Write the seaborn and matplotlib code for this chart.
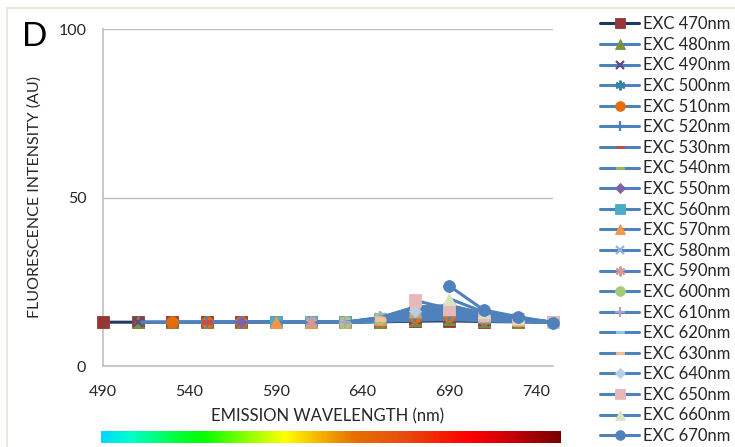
import numpy as np
import pandas as pd
import matplotlib
matplotlib.use("Agg")
import matplotlib.pyplot as plt
from matplotlib.colors import LinearSegmentedColormap
from matplotlib.patches import Rectangle
from matplotlib.path import Path
from matplotlib.ticker import MultipleLocator
import seaborn as sns

# Emission wavelengths (nm) sampled by every excitation scan
emission_nm = [490, 510, 530, 550, 570, 590, 610, 630, 650, 670, 690, 710, 730, 750]

# Fluorescence intensity (AU) per excitation wavelength, starting at its first emission point
exc_470 = [13.0, 13.0, 13.0, 13.0, 13.0, 13.0, 13.0, 13.0, 13.1, 13.3, 13.4, 13.2, 13.1, 13.0]
exc_480 = [13.0, 13.0, 13.0, 13.0, 13.0, 13.0, 13.0, 13.2, 13.6, 13.8, 13.4, 13.2, 13.0]
exc_490 = [13.0, 13.0, 13.0, 13.0, 13.0, 13.0, 13.0, 13.3, 13.9, 14.1, 13.5, 13.2, 13.0]
exc_500 = [13.0, 13.0, 13.0, 13.0, 13.0, 13.0, 13.3, 14.2, 14.5, 13.7, 13.3, 13.0]
exc_510 = [13.0, 13.0, 13.0, 13.0, 13.0, 13.0, 13.4, 14.5, 14.9, 13.9, 13.4, 13.0]
exc_520 = [13.0, 13.0, 13.0, 13.0, 13.0, 13.5, 14.8, 15.2, 14.0, 13.4, 13.0]
exc_530 = [13.0, 13.0, 13.0, 13.0, 13.0, 13.6, 15.1, 15.6, 14.2, 13.5, 13.0]
exc_540 = [13.0, 13.0, 13.0, 13.0, 13.7, 15.4, 15.9, 14.3, 13.5, 13.0]
exc_550 = [13.0, 13.0, 13.0, 13.0, 13.8, 15.7, 16.2, 14.5, 13.6, 13.0]
exc_560 = [13.0, 13.0, 13.0, 13.9, 16.0, 16.5, 14.6, 13.6, 13.0]
exc_570 = [13.0, 13.0, 13.0, 14.0, 16.3, 16.8, 14.8, 13.7, 13.0]
exc_580 = [13.0, 13.0, 14.1, 16.6, 17.0, 14.9, 13.7, 13.0]
exc_590 = [13.0, 13.0, 14.2, 16.9, 17.2, 15.0, 13.8, 13.0]
exc_600 = [13.0, 14.3, 17.2, 17.4, 15.1, 13.8, 13.0]
exc_610 = [13.0, 14.4, 17.4, 17.6, 15.2, 13.9, 13.0]
exc_620 = [14.2, 17.5, 17.8, 15.3, 13.9, 13.0]
exc_630 = [13.8, 17.3, 18.0, 15.4, 14.0, 13.0]
exc_640 = [16.3, 18.0, 15.6, 14.0, 13.0]
exc_650 = [19.5, 17.0, 15.0, 14.0, 13.0]
exc_660 = [20.0, 16.0, 14.3, 13.0]
exc_670 = [23.8, 16.6, 14.6, 12.9]

excitation_nm = [470, 480, 490, 500, 510, 520, 530, 540, 550, 560,
                 570, 580, 590, 600, 610, 620, 630, 640, 650, 660, 670]
series_values = [exc_470, exc_480, exc_490, exc_500, exc_510, exc_520, exc_530,
                 exc_540, exc_550, exc_560, exc_570, exc_580, exc_590, exc_600,
                 exc_610, exc_620, exc_630, exc_640, exc_650, exc_660, exc_670]

x_ticks = [490, 540, 590, 640, 690, 740]
y_ticks = [0, 50, 100]

# Small horizontal bar marker
DASH = Path([(-1.0, -0.4), (1.0, -0.4), (1.0, 0.4), (-1.0, 0.4), (-1.0, -0.4)],
            [Path.MOVETO, Path.LINETO, Path.LINETO, Path.LINETO, Path.CLOSEPOLY])
STAR = (6, 2, 0)

# (marker, face colour, size) per excitation series
marker_styles = [
    ("s", "#953735", 8.0), ("^", "#77933C", 9.0), ("x", "#604A7B", 7.5),
    (STAR, "#31859C", 8.5), ("o", "#E46C0A", 8.5), ("+", "#4F81BD", 8.0),
    (DASH, "#C0504D", 6.5), (DASH, "#9BBB59", 6.5), ("D", "#8064A2", 6.5),
    ("s", "#4BACC6", 8.0), ("^", "#F79646", 9.0), ("x", "#95B3D7", 7.5),
    (STAR, "#D99694", 8.5), ("o", "#A9C97A", 8.5), ("+", "#B3A2C7", 8.0),
    (DASH, "#93CDDD", 6.5), (DASH, "#FAC090", 6.5), ("D", "#B9CDE5", 6.5),
    ("s", "#E6B9B8", 8.0), ("^", "#D7E4BD", 9.0), ("o", "#4F81BD", 8.5),
]
line_colors = ["#1F3864"] + ["#4F81BD"] * 20

sns.set_style("white")
FONT = ["Lato", "DejaVu Sans"]
plt.rcParams["font.family"] = FONT
TEXT = "#262626"
GRID = "#BFBFBF"

fig = plt.figure(figsize=(7.35, 4.47), dpi=100)
ax = fig.add_axes([103 / 735, 81 / 447, 450 / 735, 337 / 447])

for exc, vals, (mk, mcol, ms), lcol in zip(excitation_nm, series_values,
                                          marker_styles, line_colors):
    x = emission_nm[len(emission_nm) - len(vals):]
    df = pd.DataFrame({"emission": x, "intensity": vals})
    thin = mk in ("x", "+", STAR)
    sns.lineplot(data=df, x="emission", y="intensity", ax=ax, color=lcol,
                 linewidth=2.2, marker=mk, markersize=ms,
                 markerfacecolor=mcol, markeredgecolor=mcol,
                 markeredgewidth=1.6 if thin else 0.6,
                 label=f"EXC {exc}nm", clip_on=False, zorder=3)

ax.set_xlim(490, 750)
ax.set_ylim(0, 100)
ax.set_xticks(x_ticks)
ax.set_yticks(y_ticks)
ax.xaxis.set_minor_locator(MultipleLocator(10))
ax.yaxis.set_minor_locator(MultipleLocator(10))
ax.tick_params(axis="x", which="major", direction="inout", length=9, width=1,
               color=GRID, labelsize=11.5, labelcolor=TEXT, pad=9)
ax.tick_params(axis="x", which="minor", direction="in", length=4, width=1, color=GRID)
ax.tick_params(axis="y", which="major", direction="out", length=5, width=1,
               color=GRID, labelsize=11.5, labelcolor=TEXT, pad=7)
ax.tick_params(axis="y", which="minor", direction="in", length=4, width=1, color=GRID)
ax.grid(axis="y", which="major", color=GRID, linewidth=1)
for side in ("top", "right"):
    ax.spines[side].set_visible(False)
for side in ("left", "bottom"):
    ax.spines[side].set_color(GRID)
    ax.spines[side].set_linewidth(1.2)

ax.set_xlabel("EMISSION WAVELENGTH (nm)", fontsize=12, color=TEXT, labelpad=7)
ax.set_ylabel("FLUORESCENCE INTENSITY (AU)", fontsize=11.5, color=TEXT, labelpad=12)

handles, labels = ax.get_legend_handles_labels()
ax.legend(handles, labels, loc="upper left", bbox_to_anchor=(592 / 735, 1 - 8 / 447),
          bbox_transform=fig.transFigure, frameon=False, fontsize=12,
          handlelength=2.3, handletextpad=0.25, labelspacing=0.275,
          markerscale=0.82, borderpad=0, labelcolor=TEXT)

# Visible-spectrum strip under the wavelength axis
spectrum = LinearSegmentedColormap.from_list("spectrum", [
    (0.00, "#00D7FA"), (0.06, "#00FFD0"), (0.16, "#00FF40"), (0.22, "#00FF00"),
    (0.33, "#A0FF00"), (0.40, "#FFFF00"), (0.47, "#F5B800"), (0.55, "#E87000"),
    (0.65, "#E85010"), (0.74, "#F52000"), (0.80, "#FF0000"), (0.88, "#D00008"),
    (1.00, "#7A0000")])
cax = fig.add_axes([101 / 735, 4 / 447, 460 / 735, 12 / 447])
cax.imshow(np.linspace(0, 1, 512)[None, :], aspect="auto", cmap=spectrum)
cax.set_axis_off()

fig.text(35 / 735, 1 - 37 / 447, "D", fontsize=24, color="black",
         ha="center", va="center")
fig.patches.append(Rectangle((7 / 735, -0.2), 1.5, 1.2 - 8 / 447, fill=False,
                             edgecolor="#ECE8DC", linewidth=1.5,
                             transform=fig.transFigure, figure=fig))

fig.savefig("out.png", dpi=100)
